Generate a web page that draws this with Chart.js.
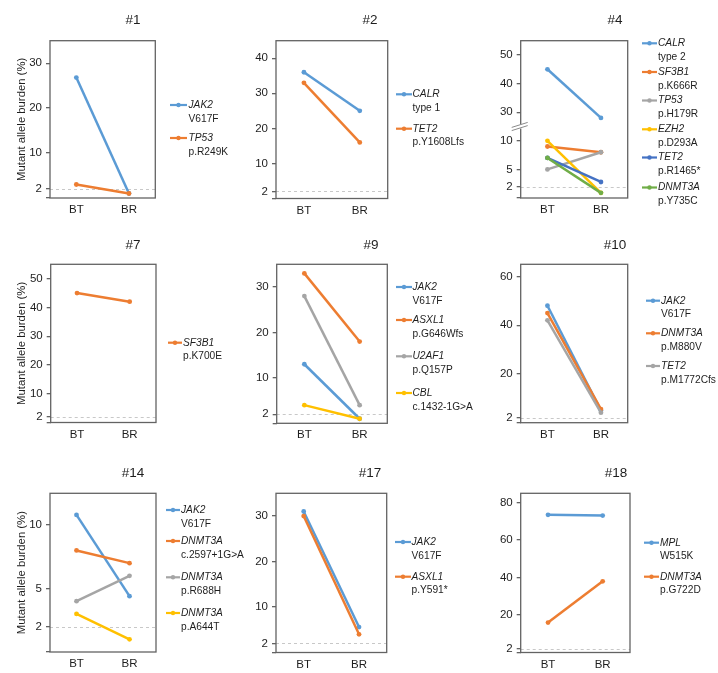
<!DOCTYPE html>
<html>
<head>
<meta charset="utf-8">
<script src="https://cdn.jsdelivr.net/npm/chart.js@4.4.1/dist/chart.umd.min.js"></script>
<style>
  html, body { margin: 0; padding: 0; background: #fff; width: 718px; height: 673px; overflow: hidden; position: relative; }
  canvas { position: absolute; }
</style>
</head>
<body>
<script>
// ---- data ----
const categories = ['BT', 'BR'];
const titles = ['#1', '#2', '#4', '#7', '#9', '#10', '#14', '#17', '#18'];

const genes1 = ['JAK2', 'TP53'];
const variants1 = ['V617F', 'p.R249K'];
const bt1 = [26.8, 3.0];
const br1 = [1.0, 1.0];
const ticks1 = [0, 2, 10, 20, 30];

const genes2 = ['CALR', 'TET2'];
const variants2 = ['type 1', 'p.Y1608Lfs'];
const bt2 = [36, 33];
const br2 = [25, 16];
const ticks2 = [0, 2, 10, 20, 30, 40];

const genes4 = ['CALR', 'SF3B1', 'TP53', 'EZH2', 'TET2', 'DNMT3A'];
const variants4 = ['type 2', 'p.K666R', 'p.H179R', 'p.D293A', 'p.R1465*', 'p.Y735C'];
const bt4 = [45, 9, 5, 10, 7, 7];
const br4 = [28, 8, 8, 0.9, 2.8, 0.9];
const ticks4 = [0, 2, 5, 10, 30, 40, 50];

const genes7 = ['SF3B1'];
const variants7 = ['p.K700E'];
const bt7 = [45];
const br7 = [42];
const ticks7 = [0, 2, 10, 20, 30, 40, 50];

const genes9 = ['JAK2', 'ASXL1', 'U2AF1', 'CBL'];
const variants9 = ['V617F', 'p.G646Wfs', 'p.Q157P', 'c.1432-1G>A'];
const bt9 = [13, 33, 28, 4];
const br9 = [1.0, 18, 4, 1.0];
const ticks9 = [0, 2, 10, 20, 30];

const genes10 = ['JAK2', 'DNMT3A', 'TET2'];
const variants10 = ['V617F', 'p.M880V', 'p.M1772Cfs'];
const bt10 = [48, 45, 42];
const br10 = [5, 5.6, 4.1];
const ticks10 = [0, 2, 20, 40, 60];

const genes14 = ['JAK2', 'DNMT3A', 'DNMT3A', 'DNMT3A'];
const variants14 = ['V617F', 'c.2597+1G>A', 'p.R688H', 'p.A644T'];
const bt14 = [10.8, 8, 4, 3];
const br14 = [4.4, 7, 6, 1];
const ticks14 = [0, 2, 5, 10];

const genes17 = ['JAK2', 'ASXL1'];
const variants17 = ['V617F', 'p.Y591*'];
const bt17 = [31, 30];
const br17 = [5.6, 4];
const ticks17 = [0, 2, 10, 20, 30];

const genes18 = ['MPL', 'DNMT3A'];
const variants18 = ['W515K', 'p.G722D'];
const bt18 = [73.5, 16];
const br18 = [73.1, 38];
const ticks18 = [0, 2, 20, 40, 60, 80];

const yTitle = 'Mutant allele burden (%)';

// ---- style / layout ----
const palette = ['#5B9BD5', '#ED7D31', '#A5A5A5', '#FFC000', '#4472C4', '#70AD47'];
const FONT = '"Liberation Sans", Arial, Helvetica, sans-serif';
const TEXT = '#1e1e1e';
const FRAME = '#636363';
const XH = 20;

Chart.defaults.font.family = FONT;
Chart.defaults.color = TEXT;

// broken axis of #4: 0..10 stretched x2, values above 20 kept
const same = v => v;
const brk = v => (v <= 10 ? v * 2 : v);
const unbrk = d => (d <= 20 ? d / 2 : d);

const panels = [
  { t: 0, genes: genes1, variants: variants1, bt: bt1, br: br1, ticks: ticks1, yMax: 35, cols: [0, 1],
    canvas: [0, 0, 250, 222], box: [50, 40.7, 155.3, 198], yw: 42, titleXY: [133, 20],
    leg: [170, 187, 188.5], ys: [105, 138] },
  { t: 1, genes: genes2, variants: variants2, bt: bt2, br: br2, ticks: ticks2, yMax: 45, cols: [0, 1],
    canvas: [245, 0, 240, 222], box: [276, 40.7, 387.7, 198.5], yw: 28, titleXY: [370, 20.5],
    leg: [396, 412, 412.5], ys: [94.3, 128.7] },
  { t: 2, genes: genes4, variants: variants4, bt: bt4, br: br4, ticks: ticks4, yMax: 55, cols: [0, 1, 2, 3, 4, 5],
    canvas: [488, 0, 230, 222], box: [520.7, 40.7, 627.7, 198], yw: 28, titleXY: [615, 20],
    leg: [642, 657, 658], ys: [43.3, 72, 100.5, 129.3, 157.5, 187.5], broken: true },
  { t: 3, genes: genes7, variants: variants7, bt: bt7, br: br7, ticks: ticks7, yMax: 55, cols: [1],
    canvas: [0, 225, 250, 222], box: [50.7, 264.3, 156, 422.5], yw: 42.7, titleXY: [133, 245],
    leg: [168, 182, 183], ys: [342.7] },
  { t: 4, genes: genes9, variants: variants9, bt: bt9, br: br9, ticks: ticks9, yMax: 35, cols: [0, 1, 2, 3],
    canvas: [245, 225, 240, 222], box: [276.7, 264.3, 387.3, 423.3], yw: 28, titleXY: [371, 245],
    leg: [396, 412, 412.5], ys: [287, 320, 356.3, 393] },
  { t: 5, genes: genes10, variants: variants10, bt: bt10, br: br10, ticks: ticks10, yMax: 65, cols: [0, 1, 2],
    canvas: [488, 225, 230, 222], box: [520.7, 264.3, 627.7, 422.7], yw: 28, titleXY: [615, 245],
    leg: [646, 660, 661], ys: [300.7, 333.3, 366] },
  { t: 6, genes: genes14, variants: variants14, bt: bt14, br: br14, ticks: ticks14, yMax: 12.5, cols: [0, 1, 2, 3],
    canvas: [0, 451, 250, 222], box: [50, 493.3, 156, 652], yw: 42, titleXY: [133, 473.3],
    leg: [166, 180, 181], ys: [510, 541, 577.3, 613] },
  { t: 7, genes: genes17, variants: variants17, bt: bt17, br: br17, ticks: ticks17, yMax: 35, cols: [0, 1],
    canvas: [245, 451, 240, 222], box: [276, 493.3, 386.7, 652.5], yw: 28, titleXY: [370, 473.3],
    leg: [395, 411, 411.5], ys: [542, 576.7] },
  { t: 8, genes: genes18, variants: variants18, bt: bt18, br: br18, ticks: ticks18, yMax: 85, cols: [0, 1],
    canvas: [488, 451, 230, 222], box: [520.7, 493.3, 630, 652.5], yw: 28, titleXY: [616, 473.3],
    leg: [644, 659, 660], ys: [542.7, 576.7] }
];

function decor(p) {
  const [cx, cy] = p.canvas;
  const fwd = p.broken ? brk : same;
  return {
    id: 'decor',
    beforeDatasetsDraw(chart) {
      const { ctx, chartArea: a, scales: { y } } = chart;
      ctx.save();
      const y2 = Math.round(y.getPixelForValue(fwd(2))) + 0.5;
      ctx.strokeStyle = '#c8c8c8';
      ctx.lineWidth = 1;
      ctx.setLineDash([3, 3]);
      ctx.beginPath();
      ctx.moveTo(a.left, y2);
      ctx.lineTo(a.right, y2);
      ctx.stroke();
      ctx.setLineDash([]);
      ctx.strokeStyle = FRAME;
      ctx.lineWidth = 1.3;
      ctx.strokeRect(a.left, a.top, a.right - a.left, a.bottom - a.top);
      if (p.broken) {
        const yb = y.getPixelForValue(25);
        ctx.fillStyle = '#fff';
        ctx.fillRect(a.left - 2, yb - 2, 4, 4);
        ctx.strokeStyle = '#8a8a8a';
        ctx.lineWidth = 1;
        [-1.6, 1.6].forEach(d => {
          ctx.beginPath();
          ctx.moveTo(a.left - 9, yb + d + 2.5);
          ctx.lineTo(a.left + 7, yb + d - 2.5);
          ctx.stroke();
        });
      }
      ctx.restore();
    },
    afterDraw(chart) {
      const ctx = chart.ctx;
      ctx.save();
      ctx.fillStyle = TEXT;
      ctx.textBaseline = 'middle';
      ctx.textAlign = 'center';
      ctx.font = '13.5px ' + FONT;
      ctx.fillText(titles[p.t], p.titleXY[0] - cx, p.titleXY[1] - cy);
      ctx.textAlign = 'left';
      const [x1, x2, tx] = p.leg;
      p.genes.forEach((g, i) => {
        const yy = p.ys[i] - cy;
        const col = palette[p.cols[i]];
        ctx.strokeStyle = col;
        ctx.lineWidth = 2.2;
        ctx.beginPath();
        ctx.moveTo(x1 - cx, yy);
        ctx.lineTo(x2 - cx, yy);
        ctx.stroke();
        ctx.fillStyle = col;
        ctx.beginPath();
        ctx.arc((x1 + x2) / 2 - cx, yy, 2.2, 0, Math.PI * 2);
        ctx.fill();
        ctx.fillStyle = TEXT;
        ctx.font = 'italic 10.2px ' + FONT;
        ctx.fillText(g, tx - cx, yy);
        ctx.font = '10.2px ' + FONT;
        ctx.fillText(p.variants[i], tx - cx, yy + 13.8);
      });
      ctx.restore();
    }
  };
}

panels.forEach((p) => {
  const [cx, cy, cw, ch] = p.canvas;
  const [bl, bt, br, bb] = p.box;
  const fwd = p.broken ? brk : same;
  const back = p.broken ? unbrk : same;
  const cv = document.createElement('canvas');
  cv.width = cw;
  cv.height = ch;
  cv.style.left = cx + 'px';
  cv.style.top = cy + 'px';
  document.body.appendChild(cv);

  const n = p.genes.length;
  const datasets = p.genes.map((g, i) => ({
    label: g + ' ' + p.variants[i],
    data: [fwd(p.bt[i]), fwd(p.br[i])],
    borderColor: palette[p.cols[i]],
    backgroundColor: palette[p.cols[i]],
    borderWidth: 2.5,
    pointRadius: 2.4,
    pointBorderWidth: 0,
    tension: 0,
    order: n - i
  }));
  const showTitle = cx === 0;

  new Chart(cv, {
    type: 'line',
    data: { labels: categories, datasets: datasets },
    options: {
      responsive: false,
      animation: false,
      devicePixelRatio: 1,
      layout: {
        padding: { left: bl - cx - p.yw, top: bt - cy, right: cx + cw - br, bottom: cy + ch - bb - XH }
      },
      plugins: { legend: { display: false }, tooltip: { enabled: false }, title: { display: false } },
      scales: {
        x: {
          type: 'category',
          offset: true,
          grid: { display: false, drawTicks: false },
          border: { display: false },
          ticks: { font: { size: 11.5 }, color: TEXT, padding: 5 },
          afterFit: s => { s.height = XH; }
        },
        y: {
          min: 0,
          max: fwd(p.yMax),
          grid: { drawOnChartArea: false, drawTicks: true, tickLength: 4, tickColor: FRAME, lineWidth: 1.3 },
          border: { display: false },
          ticks: {
            autoSkip: false,
            padding: 4,
            font: { size: 11.5 },
            color: TEXT,
            callback: v => (v === 0 ? '' : String(back(v)))
          },
          afterBuildTicks: s => { s.ticks = p.ticks.map(v => ({ value: fwd(v) })); },
          title: {
            display: showTitle,
            text: yTitle,
            font: { size: 11.3 },
            color: TEXT,
            padding: { top: 6.9, bottom: 0 }
          },
          afterFit: s => { s.width = p.yw; }
        }
      }
    },
    plugins: [decor(p)]
  });
});
</script>
</body>
</html>
